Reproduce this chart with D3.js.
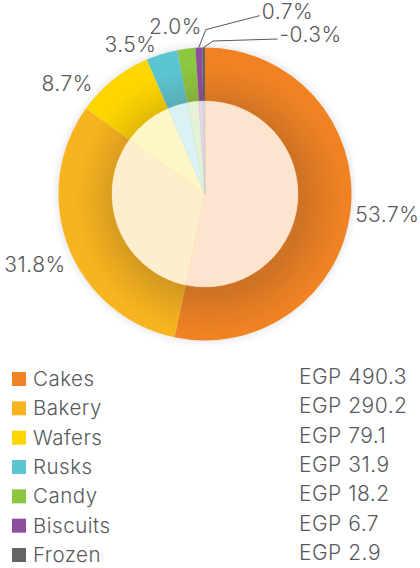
<!DOCTYPE html>
<html>
<head>
<meta charset="utf-8">
<script src="https://cdn.jsdelivr.net/npm/d3@7"></script>
<style>
  body { margin: 0; background: #fff; }
  text { font-family: Inter, Lato, "Open Sans", sans-serif; font-weight: 300; fill: #58595b; letter-spacing: 0.5px; }
</style>
</head>
<body>
<div id="chart"></div>
<script>
var categories = ["Cakes", "Bakery", "Wafers", "Rusks", "Candy", "Biscuits", "Frozen"];
var values = [490.3, 290.2, 79.1, 31.9, 18.2, 6.7, 2.9];
var pct_labels = ["53.7%", "31.8%", "8.7%", "3.5%", "2.0%", "0.7%", "-0.3%"];
var colors = ["#f08223", "#f7b41e", "#fdd600", "#5bc5d1", "#8dc63f", "#8e4e9e", "#636466"];

// label placement, offsets from a point just outside the ring
var label_layout = [
    {dx: -7, dy: 4, anchor: "start"},
    {dx: 8, dy: 13, anchor: "end"},
    {dx: -13, dy: 12, anchor: "end"},
    {dx: -2, dy: 1, anchor: "end"},
    {dx: 17, dy: -11, anchor: "end"},
    {elbow: [7, -18], end: [61, -32], anchor: "start"},
    {elbow: [9.5, -6.5], end: [74, -8.5], anchor: "start"}
];

var width = 420, height = 568,
    cx = 205, cy = 194,
    R = 146.5, r = 93;

var svg = d3.select("#chart")
    .append("svg")
    .attr("width", width)
    .attr("height", height);

var defs = svg.append("defs");

var shadow = defs.append("filter")
    .attr("id", "halo")
    .attr("x", "-20%").attr("y", "-20%")
    .attr("width", "140%").attr("height", "140%");
shadow.append("feGaussianBlur").attr("stdDeviation", 4);

var inner_shade = defs.append("radialGradient")
    .attr("id", "shade")
    .attr("gradientUnits", "userSpaceOnUse")
    .attr("cx", 5).attr("cy", 6).attr("r", R);
inner_shade.append("stop").attr("offset", r / R).attr("stop-color", "#5a3a2a").attr("stop-opacity", 0.22);
inner_shade.append("stop").attr("offset", 0.8).attr("stop-color", "#5a3a2a").attr("stop-opacity", 0.08);
inner_shade.append("stop").attr("offset", 0.92).attr("stop-color", "#5a3a2a").attr("stop-opacity", 0);

var pie = d3.pie().sort(null).value(d => d);
var arcs = pie(values);

var ring = d3.arc().innerRadius(r).outerRadius(R);
var core = d3.arc().innerRadius(0).outerRadius(r);

var g = svg.append("g").attr("transform", `translate(${cx},${cy})`);

g.append("circle")
    .attr("r", R + 1)
    .attr("fill", "#000")
    .attr("opacity", 0.12)
    .attr("filter", "url(#halo)");

g.selectAll(".ring")
    .data(arcs)
    .enter()
    .append("path")
    .attr("class", "ring")
    .attr("d", ring)
    .attr("fill", (d, i) => colors[i]);

g.append("path")
    .attr("d", d3.arc().innerRadius(r).outerRadius(R).startAngle(0).endAngle(2 * Math.PI)())
    .attr("fill", "url(#shade)");

g.selectAll(".core")
    .data(arcs)
    .enter()
    .append("path")
    .attr("class", "core")
    .attr("d", core)
    .attr("fill", (d, i) => d3.interpolateRgb(colors[i], "#fff")(0.78))
    .attr("stroke", (d, i) => d3.interpolateRgb(colors[i], "#fff")(0.6))
    .attr("stroke-width", 0.4);

function polar(a, rad) {
    return [rad * Math.sin(a), -rad * Math.cos(a)];
}

arcs.forEach(function(d, i) {
    var lay = label_layout[i];
    var mid = (d.startAngle + d.endAngle) / 2;
    var tx, ty;
    if (lay.elbow) {
        var p0 = polar(mid, R);
        var p1 = [p0[0] + lay.elbow[0], p0[1] + lay.elbow[1]];
        var p2 = [p0[0] + lay.end[0], p0[1] + lay.end[1]];
        g.append("path")
            .attr("d", d3.line()([p0, p1, p2]))
            .attr("fill", "none")
            .attr("stroke", "#58595b")
            .attr("stroke-width", 1);
        tx = p2[0] + 2; ty = p2[1] - 4.5;
    } else {
        var p = polar(mid, R + 11.5);
        tx = p[0] + lay.dx; ty = p[1] + lay.dy;
    }
    g.append("text")
        .attr("x", tx)
        .attr("y", ty)
        .attr("dy", "0.36em")
        .attr("text-anchor", lay.anchor)
        .style("font-size", "21px")
        .text(pct_labels[i]);
});

// legend
var row = d3.scaleLinear().domain([0, categories.length - 1]).range([372, 548]);

var legend = svg.selectAll(".legend")
    .data(categories)
    .enter()
    .append("g")
    .attr("class", "legend")
    .attr("transform", (d, i) => `translate(0,${row(i)})`);

legend.append("rect")
    .attr("x", 12)
    .attr("width", 14)
    .attr("height", 14)
    .attr("fill", (d, i) => colors[i]);

legend.append("text")
    .attr("x", 33)
    .attr("y", 14)
    .style("font-size", "20.5px")
    .text(d => d);

legend.append("text")
    .attr("x", 299)
    .attr("y", 12)
    .style("font-size", "21px")
    .text((d, i) => "EGP " + d3.format(".1f")(values[i]));
</script>
</body>
</html>
